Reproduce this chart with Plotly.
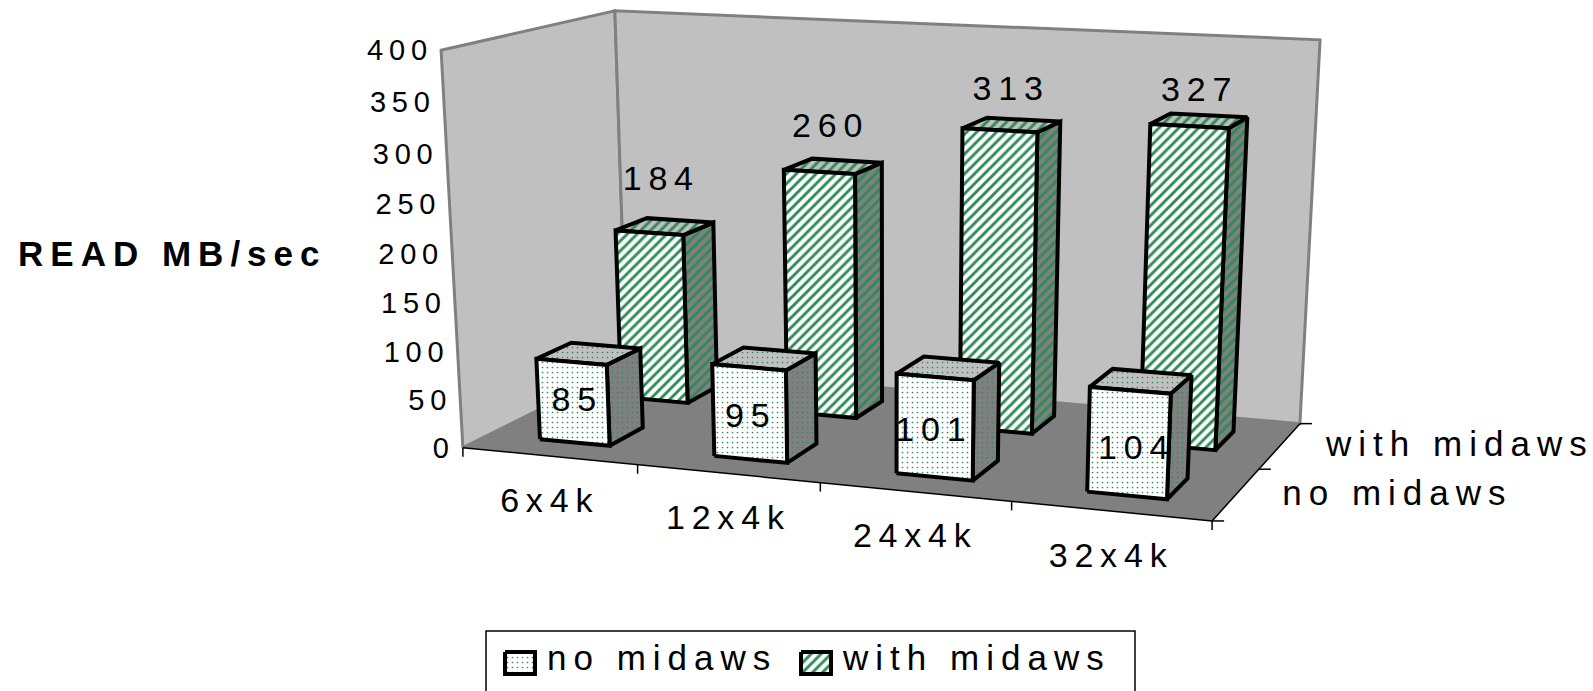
import numpy as np
import plotly.graph_objects as go

# ---- chart data ----
categories = ["6x4k", "12x4k", "24x4k", "32x4k"]
series_names = ["no midaws", "with midaws"]
no_midaws = [85, 95, 101, 104]
with_midaws = [184, 260, 313, 327]
z_ticks = [0, 50, 100, 150, 200, 250, 300, 350, 400]
axis_title = "READ MB/sec"

# ---- layout: the 3-D plot box (x: 0-4 categories, y: 0-2 series, z: 0-400) and where it sits on the page
W, H = 1593, 691
BOX_ANCHORS = [
    ((0, 0, 0), (463, 448)), ((0, 0, 400), (441, 51)), ((0, 2, 0), (627, 366)), ((0, 2, 400), (615, 10)),
    ((4, 2, 0), (1299, 424)), ((4, 2, 400), (1320, 40)), ((4, 0, 0), (1213, 520)), ((1, 0, 0), (637, 465)),
    ((2, 0, 0), (821, 482)), ((3, 0, 0), (1010, 501)), ((4, 1, 0), (1260, 470)),
]
BAR_W, BAR_D = 0.405, 0.41
NO_LABEL_OFF = [(-15, 49), (-17, 60), (-18, 64), (-8, 69)]
WITH_LABEL_OFF = [(-7, -45), (-6, -38), (-4, -33), (-3, -28)]
GREEN = "#2E8B57"
FS = 34
FS_TICK = 29
FS_NAME = 35
FONT = "Liberation Sans"
GAP = "\u2009"


def fit_camera():
    rows = []
    for (x, y, z), (u, v) in BOX_ANCHORS:
        X = [x / 4, y / 2, z / 400, 1]
        u, v = u / 1000, v / 1000
        rows.append(X + [0, 0, 0, 0] + [-u * a for a in X])
        rows.append([0, 0, 0, 0] + X + [-v * a for a in X])
    return np.linalg.svd(np.array(rows))[2][-1].reshape(3, 4)


CAM = fit_camera()


def proj(x, y, z):
    q = CAM @ np.array([x / 4, y / 2, z / 400, 1])
    return 1000 * q[0] / q[2], 1000 * q[1] / q[2]


def spaced(t):
    return GAP.join(t)


fig = go.Figure()


def poly(pts, fill, line=None, lw=0, pattern=None, name=""):
    xs = [p[0] for p in pts] + [pts[0][0]]
    ys = [p[1] for p in pts] + [pts[0][1]]
    kw = {}
    if pattern:
        kw["fillpattern"] = pattern
    fig.add_trace(go.Scatter(x=xs, y=ys, mode="lines", fill="toself", fillcolor=fill,
                             line=dict(color=line or fill, width=lw), name=name,
                             hoverinfo="skip", showlegend=False, **kw))


def seg(a, b, color="black", lw=1.5):
    fig.add_trace(go.Scatter(x=[a[0], b[0]], y=[a[1], b[1]], mode="lines",
                             line=dict(color=color, width=lw), hoverinfo="skip", showlegend=False))


def label(px, text, pos="middle center", size=FS, bold=False):
    fig.add_trace(go.Scatter(x=[px[0]], y=[px[1]], mode="text", text=[text], textposition=pos,
                             textfont=dict(family=FONT, size=size, color="black",
                                           weight="bold" if bold else "normal"),
                             hoverinfo="skip", showlegend=False))


def pat(shape, bg):
    if shape == "/":
        return dict(shape="/", fgcolor=GREEN, bgcolor=bg, size=7, solidity=0.42, fillmode="replace")
    return dict(shape=".", fgcolor=GREEN, bgcolor=bg, size=5, solidity=0.09, fillmode="replace")


def box(cx, cy, h, shape, name):
    x0, x1 = cx - BAR_W / 2, cx + BAR_W / 2
    y0, y1 = cy - BAR_D / 2, cy + BAR_D / 2
    poly([proj(x1, y0, 0), proj(x1, y1, 0), proj(x1, y1, h), proj(x1, y0, h)], "#808080", "black", 4,
         pat(shape, "#808080"), name)
    poly([proj(x0, y0, h), proj(x1, y0, h), proj(x1, y1, h), proj(x0, y1, h)], "#C0C0C0", "black", 4,
         pat(shape, "#C0C0C0"), name)
    poly([proj(x0, y0, 0), proj(x1, y0, 0), proj(x1, y0, h), proj(x0, y0, h)], "#FFFFFF", "black", 4,
         pat(shape, "#FFFFFF"), name)


# walls and floor
poly([proj(0, 0, 0), proj(0, 2, 0), proj(0, 2, 400), proj(0, 0, 400)], "#C0C0C0", "#808080", 3, name="side wall")
poly([proj(0, 2, 0), proj(4, 2, 0), proj(4, 2, 400), proj(0, 2, 400)], "#C0C0C0", "#808080", 3, name="back wall")
poly([proj(0, 0, 0), proj(4, 0, 0), proj(4, 2, 0), proj(0, 2, 0)], "#808080", name="floor")
seg(proj(0, 0, 0), proj(4, 0, 0))
seg(proj(4, 0, 0), proj(4, 2, 0))
for i in range(len(categories) + 1):
    a = proj(i, 0, 0)
    seg(a, (a[0], a[1] + 9))
for j in range(len(series_names) + 1):
    a = proj(4, j, 0)
    seg(a, (a[0] + 12, a[1]))

# bars, back row first
for i, v in enumerate(with_midaws):
    box(i + 0.5, 1.5, v, "/", series_names[1] + " " + categories[i])
for i, v in enumerate(no_midaws):
    box(i + 0.5, 0.5, v, ".", series_names[0] + " " + categories[i])

# data labels
for i, v in enumerate(with_midaws):
    p = proj(i + 0.5, 1.5, v)
    label((p[0] + WITH_LABEL_OFF[i][0], p[1] + WITH_LABEL_OFF[i][1]), spaced(str(v)))
for i, v in enumerate(no_midaws):
    p = proj(i + 0.5, 0.5, v)
    label((p[0] + NO_LABEL_OFF[i][0], p[1] + NO_LABEL_OFF[i][1]), spaced(str(v)))

# axis labels
for t in z_ticks:
    p = proj(0, 0, t)
    label((p[0] - 14, p[1] + 3), spaced(str(t)), "middle left", size=FS_TICK)
for i, c in enumerate(categories):
    p = proj(i + 0.5, 0, 0)
    label((p[0] - 3, p[1] + 47), spaced(c))
for j, s in enumerate(series_names):
    p = proj(4, j + 0.5, 0)
    label((p[0] + 46, p[1] + 2), spaced(s), "middle right", size=FS_NAME)
label((18, 257), spaced(axis_title), "middle right", size=35, bold=True)

# legend
fig.add_shape(type="rect", x0=486, x1=1135, y0=631, y1=695, line=dict(color="black", width=1.5))
for (x0, shape, text, tx) in [(505, ".", series_names[0], 547), (801, "/", series_names[1], 843)]:
    poly([(x0, 652), (x0 + 30, 652), (x0 + 30, 674), (x0, 674)], "#FFFFFF", "black", 4, pat(shape, "#FFFFFF"))
    label((tx, 661), spaced(text), "middle right", size=FS_NAME)

fig.update_layout(width=W, height=H, margin=dict(l=0, r=0, t=0, b=0), showlegend=False,
                  paper_bgcolor="white", plot_bgcolor="white",
                  xaxis=dict(range=[0, W], visible=False, fixedrange=True),
                  yaxis=dict(range=[H, 0], visible=False, fixedrange=True))
fig.write_html("out.html", config={"displayModeBar": False},
               post_script="document.body.style.margin='0';document.documentElement.style.overflow='hidden';")
